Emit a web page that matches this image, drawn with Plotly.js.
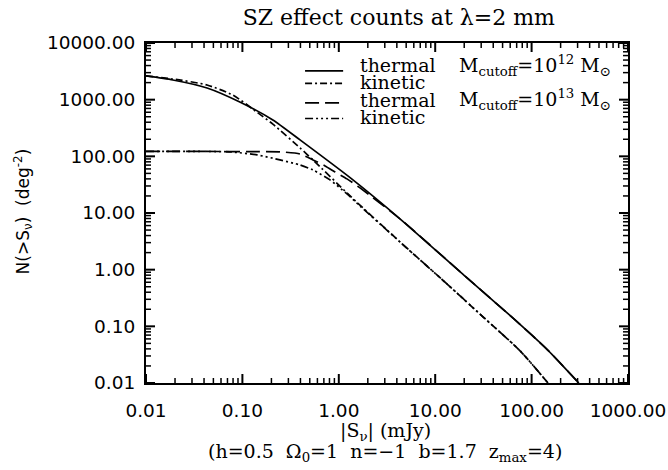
<!DOCTYPE html>
<html>
<head>
<meta charset="utf-8">
<script src="https://cdn.plot.ly/plotly-3.0.1.min.js"></script>
<style>html,body{margin:0;padding:0;background:#fff;}#chart{width:668px;height:470px;}</style>
</head>
<body>
<div id="chart"></div>
<script>
// ---- data ----
const S_th12 = [0.01, 0.019, 0.043, 0.094, 0.207, 0.396, 1.31, 4.31, 21.4, 67.3, 148, 309];
const N_th12 = [2620, 2225, 1610, 910, 438, 195, 42, 7.9, 0.716, 0.130, 0.0378, 0.01];

const S_kin12 = [0.01, 0.019, 0.043, 0.080, 0.142, 0.207, 0.396, 0.54, 1.31, 4.31, 14.3, 31.3, 75.9, 148];
const N_kin12 = [2620, 2317, 1816, 1200, 600, 370, 141, 86.5, 20, 3.09, 0.498, 0.147, 0.037, 0.01];

const S_th13 = [0.01, 0.036, 0.12, 0.245, 0.396, 0.54, 0.72, 0.914, 1.216, 1.66, 4.31, 21.4, 67.3, 148, 309];
const N_th13 = [122, 122, 121, 120, 110, 86.5, 67.7, 53, 40, 27.7, 7.9, 0.716, 0.130, 0.0378, 0.01];

const S_kin13 = [0.01, 0.036, 0.074, 0.142, 0.245, 0.396, 0.54, 0.81, 1.216, 1.66, 4.31, 14.3, 31.3, 75.9, 148];
const N_kin13 = [122, 122, 120, 106, 86.5, 70.5, 57.5, 38.4, 21.7, 13.3, 3.09, 0.498, 0.147, 0.037, 0.01];

const xTickVals = [0.01, 0.1, 1, 10, 100, 1000];
const xTickText = ['0.01', '0.10', '1.00', '10.00', '100.00', '1000.00'];
const yTickVals = [0.01, 0.1, 1, 10, 100, 1000, 10000];
const yTickText = ['0.01', '0.10', '1.00', '10.00', '100.00', '1000.00', '10000.00'];

const legendNames = ['thermal', 'kinetic', 'thermal', 'kinetic'];
const massLabels = ['M<sub>cutoff</sub>=10<sup>12</sup> M<sub>⊙</sub>', '', 'M<sub>cutoff</sub>=10<sup>13</sup> M<sub>⊙</sub>', ''];

// minor tick positions (2..9 within every decade of the major ticks)
function minorsOf(majors) {
  const out = [];
  for (let i = 0; i < majors.length - 1; i++) for (let k = 2; k <= 9; k++) out.push(majors[i] * k);
  return out;
}
const xMinor = minorsOf(xTickVals);
const yMinor = minorsOf(yTickVals);

// ---- geometry / styles ----
const xRange = [-2, 3], yRange = [-2, 4];
const M = {l: 146, r: 40, t: 43, b: 87};
const plotW = 668 - M.l - M.r, plotH = 470 - M.t - M.b;
const majLen = 9, minLen = 5;

const dashes = ['solid', '7px,3px,2px,3px', '14px,6px', '8px,3px,2px,3px,2px,3px,2px,3px'];
const series = [[S_th12, N_th12], [S_kin12, N_kin12], [S_th13, N_th13], [S_kin13, N_kin13]];

const traces = series.map((s, i) => ({
  x: s[0], y: s[1], type: 'scatter', mode: 'lines',
  line: {color: '#000', width: 1.7, dash: dashes[i], shape: 'spline', smoothing: 0.6},
  showlegend: false, hoverinfo: 'skip'
}));

// inside tick marks on all four sides, built from the tick arrays in the axes' own (log) space
function tickTrace(xv, yv, len, w) {
  const tx = [], ty = [];
  const yLo = Math.pow(10, yRange[0]), yHi = Math.pow(10, yRange[1]);
  const xLo = Math.pow(10, xRange[0]), xHi = Math.pow(10, xRange[1]);
  const dyDec = len / plotH * (yRange[1] - yRange[0]);
  const dxDec = len / plotW * (xRange[1] - xRange[0]);
  xv.forEach(v => {
    tx.push(v, v, null, v, v, null);
    ty.push(yLo, Math.pow(10, yRange[0] + dyDec), null, yHi, Math.pow(10, yRange[1] - dyDec), null);
  });
  yv.forEach(v => {
    tx.push(xLo, Math.pow(10, xRange[0] + dxDec), null, xHi, Math.pow(10, xRange[1] - dxDec), null);
    ty.push(v, v, null, v, v, null);
  });
  return {x: tx, y: ty, mode: 'lines', cliponaxis: false, line: {color: '#000', width: w}, showlegend: false, hoverinfo: 'skip'};
}
traces.push(tickTrace(xTickVals, yTickVals, majLen, 2));
traces.push(tickTrace(xMinor, yMinor, minLen, 1.5));

const serif = 'DejaVu Serif, serif';
const sans = 'DejaVu Sans, sans-serif';

const annotations = [];
const shapes = [];

// hand-built legend (tight row spacing as in the reference)
const legRowsText = [0.935, 0.885, 0.833, 0.783];
const legRowsLine = [0.918, 0.881, 0.824, 0.778];
legendNames.forEach((nm, i) => {
  annotations.push({xref: 'paper', yref: 'paper', x: 0.44, y: legRowsText[i], xanchor: 'left', yanchor: 'middle',
    text: nm, showarrow: false, font: {family: serif, size: 19, color: '#000'}});
  if (massLabels[i]) annotations.push({xref: 'paper', yref: 'paper', x: 0.645, y: legRowsText[i], xanchor: 'left', yanchor: 'middle',
    text: massLabels[i], showarrow: false, font: {family: serif, size: 19, color: '#000'}});
  shapes.push({type: 'line', xref: 'paper', yref: 'paper', x0: 0.33, x1: 0.409, y0: legRowsLine[i], y1: legRowsLine[i],
    line: {color: '#000', width: 1.7, dash: dashes[i]}});
});

annotations.push({xref: 'paper', yref: 'paper', x: -0.255, y: 0.505, xanchor: 'center', yanchor: 'middle', textangle: -90,
  text: 'N(>S<sub>ν</sub>)\u00a0 (deg<sup>-2</sup>)', showarrow: false, font: {family: sans, size: 17, color: '#000'}});
annotations.push({xref: 'paper', yref: 'paper', x: 0.496, y: -0.144, xanchor: 'center', yanchor: 'middle',
  text: '|S<sub>ν</sub>| (mJy)', showarrow: false, font: {family: serif, size: 19, color: '#000'}});
annotations.push({xref: 'paper', yref: 'paper', x: 0.496, y: -0.203, xanchor: 'center', yanchor: 'middle',
  text: '(h=0.5\u00a0 Ω<sub>0</sub>=1\u00a0 n=−1\u00a0 b=1.7\u00a0 z<sub>max</sub>=4)', showarrow: false, font: {family: serif, size: 19, color: '#000'}});

const axisCommon = {
  type: 'log', showgrid: false, zeroline: false, showline: true, linecolor: '#000', linewidth: 2,
  mirror: true, ticks: '', tickfont: {family: sans, size: 18.5, color: '#000'}
};

const layout = {
  width: 668, height: 470,
  margin: M,
  paper_bgcolor: '#fff', plot_bgcolor: '#fff',
  title: {text: 'SZ effect counts at λ=2 mm', font: {family: serif, size: 22, color: '#000'},
    xref: 'container', yref: 'container', x: 0.597, y: 0.964, xanchor: 'center', yanchor: 'middle'},
  xaxis: Object.assign({}, axisCommon, {range: xRange, tickmode: 'array', tickvals: xTickVals, ticktext: xTickText, ticklabelstandoff: 10}),
  yaxis: Object.assign({}, axisCommon, {range: yRange, tickmode: 'array', tickvals: yTickVals, ticktext: yTickText, ticklabelstandoff: 5}),
  annotations: annotations,
  shapes: shapes,
  showlegend: false
};

Plotly.newPlot('chart', traces, layout, {staticPlot: true});
</script>
</body>
</html>
